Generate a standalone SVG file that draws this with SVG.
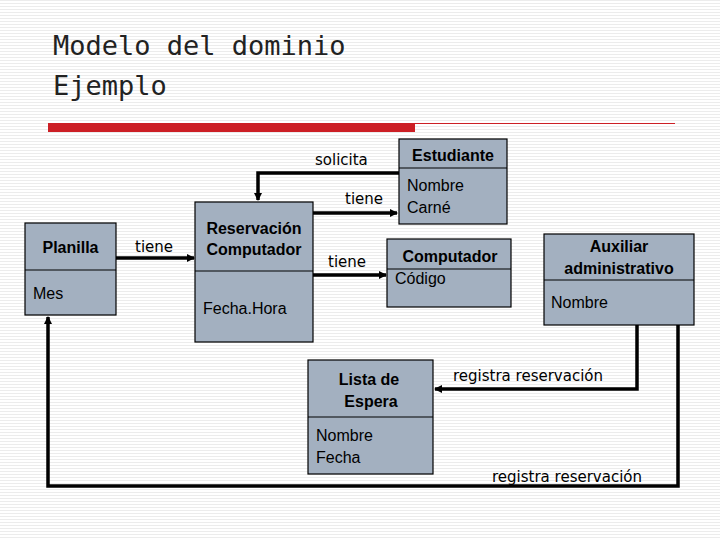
<svg xmlns="http://www.w3.org/2000/svg" width="720" height="540" viewBox="0 0 720 540">
<defs>
<pattern id="bg" width="4" height="3" patternUnits="userSpaceOnUse"><rect width="4" height="3" fill="#fff"/><rect width="4" height="1" fill="#ececec"/></pattern>
<marker id="ah" markerWidth="8" markerHeight="8" refX="7" refY="4" orient="auto" markerUnits="userSpaceOnUse"><path d="M0,0 L8,4 L0,8 Z" fill="#000"/></marker>
<style>
.box{fill:#a3b0c0;stroke:#000;stroke-width:1.2}
.dv{stroke:#000;stroke-width:1.2}
.b{font-family:"Liberation Sans",Arial,sans-serif;font-weight:bold;font-size:16px;fill:#000}
.n{font-family:"Liberation Sans",Arial,sans-serif;font-size:16px;fill:#000}
.l{font-family:"DejaVu Sans",sans-serif;font-size:15px;fill:#000}
.c{fill:none;stroke:#000;stroke-width:3.5}
.t{font-family:"DejaVu Sans Mono",monospace;font-size:27px;fill:#222}
</style>
</defs>
<rect width="720" height="540" fill="url(#bg)"/>
<text class="t" x="53" y="55">Modelo del dominio</text>
<text class="t" x="53" y="95">Ejemplo</text>
<rect x="48" y="123" width="367" height="9" fill="#cc1f25"/>
<line x1="415" y1="123.5" x2="675" y2="123.5" stroke="#cc1f25" stroke-width="1"/>

<g id="connectors">
<path class="c" d="M399,173 H258 V200" marker-end="url(#ah)"/>
<path class="c" d="M313,213 H397" marker-end="url(#ah)"/>
<path class="c" d="M313,275 H386" marker-end="url(#ah)"/>
<path class="c" d="M116,258 H194" marker-end="url(#ah)"/>
<path class="c" d="M637,325 V389 H435" marker-end="url(#ah)"/>
<path class="c" d="M678,325 V486 H48 V317" marker-end="url(#ah)"/>
<text class="l" x="315" y="165">solicita</text>
<text class="l" x="345" y="204">tiene</text>
<text class="l" x="328" y="267">tiene</text>
<text class="l" x="135" y="252">tiene</text>
<text class="l" x="453" y="381">registra reservación</text>
<text class="l" x="492" y="482">registra reservación</text>
</g>

<g id="planilla">
<rect class="box" x="25" y="223" width="91" height="92"/>
<line class="dv" x1="25" y1="270" x2="116" y2="270"/>
<text class="b" x="70.5" y="253" text-anchor="middle">Planilla</text>
<text class="n" x="33" y="299">Mes</text>
</g>
<g id="reservacion">
<rect class="box" x="195" y="202" width="118" height="140"/>
<line class="dv" x1="195" y1="271" x2="313" y2="271"/>
<text class="b" x="254" y="234" text-anchor="middle">Reservación</text>
<text class="b" x="254" y="255" text-anchor="middle">Computador</text>
<text class="n" x="203" y="314">Fecha.Hora</text>
</g>
<g id="estudiante">
<rect class="box" x="399" y="139" width="108" height="85"/>
<line class="dv" x1="399" y1="168" x2="507" y2="168"/>
<text class="b" x="453" y="161" text-anchor="middle">Estudiante</text>
<text class="n" x="407" y="191">Nombre</text>
<text class="n" x="407" y="213">Carné</text>
</g>
<g id="computador">
<rect class="box" x="387" y="239" width="124" height="68"/>
<line class="dv" x1="387" y1="269" x2="511" y2="269"/>
<text class="b" x="450" y="262" text-anchor="middle">Computador</text>
<text class="n" x="395" y="284">Código</text>
</g>
<g id="auxiliar">
<rect class="box" x="544" y="234" width="150" height="91"/>
<line class="dv" x1="544" y1="280" x2="694" y2="280"/>
<text class="b" x="619" y="252" text-anchor="middle">Auxiliar</text>
<text class="b" x="619" y="274" text-anchor="middle">administrativo</text>
<text class="n" x="551" y="308">Nombre</text>
</g>
<g id="lista">
<rect class="box" x="308" y="360" width="125" height="114"/>
<line class="dv" x1="308" y1="417" x2="433" y2="417"/>
<text class="b" x="369" y="385" text-anchor="middle">Lista de</text>
<text class="b" x="371" y="407" text-anchor="middle">Espera</text>
<text class="n" x="316" y="441">Nombre</text>
<text class="n" x="316" y="463">Fecha</text>
</g>
</svg>
